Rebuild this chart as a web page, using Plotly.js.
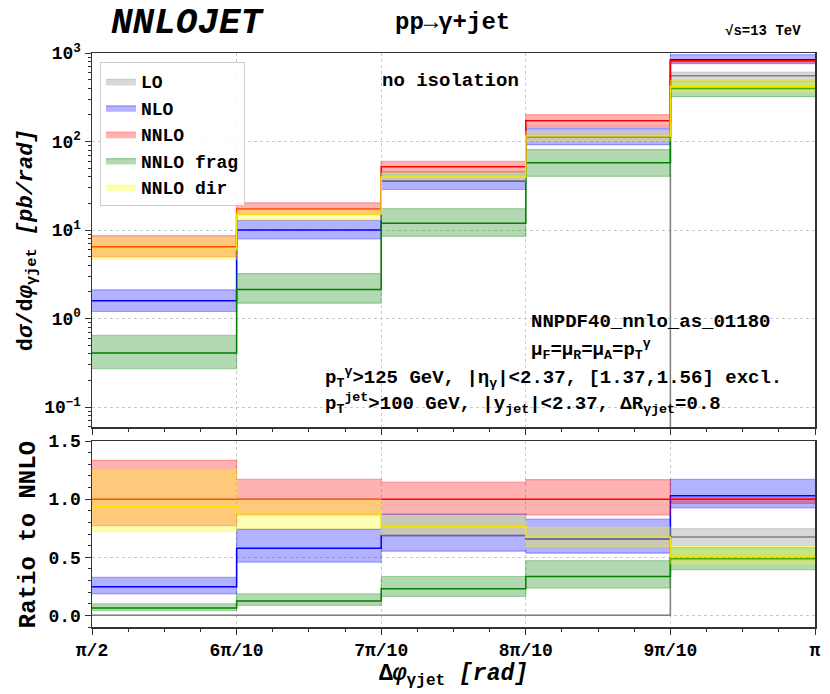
<!DOCTYPE html>
<html>
<head>
<meta charset="utf-8">
<script src="https://cdn.plot.ly/plotly-3.0.1.min.js"></script>
<style>body{margin:0;background:#fff}</style>
</head>
<body>
<div id="chart" style="width:830px;height:694px"></div>
<script>
const PI = Math.PI;
const binEdges = [PI/2, 6*PI/10, 7*PI/10, 8*PI/10, 9*PI/10, PI];
const tickLabels = ["π/2", "6π/10", "7π/10", "8π/10", "9π/10", "π"];

// dsigma/dphi [pb/rad], one value per bin (central, scale band low/high)
const lo        = [0, 0, 0, 0, 552];
const loLow     = [0, 0, 0, 0, 490];
const loHigh    = [0, 0, 0, 0, 610];

const nlo       = [1.59, 9.98, 35.7, 113, 841];
const nloLow    = [1.20, 7.91, 28.7, 92.0, 757];
const nloHigh   = [2.11, 12.85, 45.2, 142.6, 958];

const nnlo      = [6.47, 17.3, 52.0, 172, 818];
const nnloLow   = [4.99, 14.96, 45.3, 148.4, 788];
const nnloHigh  = [8.63, 20.26, 59.6, 201, 827];

const frag      = [0.408, 2.13, 11.9, 57.4, 398];
const fragLow   = [0.272, 1.49, 8.48, 40.4, 321];
const fragHigh  = [0.647, 3.22, 17.4, 81.0, 477];

const dir       = [6.04, 15.17, 39.7, 115.6, 417];
const dirLow    = [4.66, 12.96, 35.7, 101.7, 362];
const dirHigh   = [8.07, 17.3, 44.8, 130.2, 491];

const series = [
  {name: "LO",        c: lo,   l: loLow,   h: loHigh,   line: "#808080", fill: "rgba(128,128,128,0.3)"},
  {name: "NLO",       c: nlo,  l: nloLow,  h: nloHigh,  line: "#0000ff", fill: "rgba(0,0,255,0.3)"},
  {name: "NNLO",      c: nnlo, l: nnloLow, h: nnloHigh, line: "#ff0000", fill: "rgba(255,0,0,0.3)"},
  {name: "NNLO frag", c: frag, l: fragLow, h: fragHigh, line: "#008000", fill: "rgba(0,128,0,0.3)"},
  {name: "NNLO dir",  c: dir,  l: dirLow,  h: dirHigh,  line: "#f5e400", fill: "rgba(255,255,0,0.3)"}
];

// step helpers: repeat last value so 'hv' reaches the last edge
function step(vals) { return vals.concat([vals[vals.length - 1]]); }
function logSafe(vals) { return vals.map(v => v > 0 ? v : 1e-4); }  // zero bins fall below the log axis
function ratio(vals) { return vals.map((v, i) => v / nnlo[i]); }

var traces = [];
series.forEach(function (s) {
  var panels = [
    {xa: "x",  ya: "y",  c: logSafe(s.c), l: logSafe(s.l), h: logSafe(s.h), legend: true},
    {xa: "x2", ya: "y2", c: ratio(s.c),   l: ratio(s.l),   h: ratio(s.h),   legend: false}
  ];
  panels.forEach(function (p) {
    traces.push({
      x: binEdges, y: step(p.l), xaxis: p.xa, yaxis: p.ya,
      type: "scatter", mode: "lines", line: {shape: "hv", width: 1.2, color: s.fill},
      legendgroup: s.name, showlegend: false, hoverinfo: "skip"
    });
    traces.push({
      x: binEdges, y: step(p.h), xaxis: p.xa, yaxis: p.ya,
      type: "scatter", mode: "lines", line: {shape: "hv", width: 1.2, color: s.fill},
      fill: "tonexty", fillcolor: s.fill,
      name: s.name, legendgroup: s.name, showlegend: p.legend, hoverinfo: "skip"
    });
    traces.push({
      x: binEdges, y: step(p.c), xaxis: p.xa, yaxis: p.ya,
      type: "scatter", mode: "lines", line: {shape: "hv", width: 1.5, color: s.line},
      legendgroup: s.name, showlegend: false, hoverinfo: "skip"
    });
  });
});

const mono = "Liberation Mono, Courier New, monospace";

var xbase = {
  range: [PI/2, PI], tickvals: binEdges, ticks: "outside", ticklen: 6, tickwidth: 1,
  tickcolor: "#333", showline: true, mirror: true, linecolor: "#333", linewidth: 1.5,
  showgrid: true, gridcolor: "#c8c8c8", griddash: "dot", gridwidth: 1, zeroline: false,
  minor: {ticks: "outside", ticklen: 3, tick0: PI/2, dtick: PI/40, tickcolor: "#333", showgrid: false}
};

function note(text, x, y, size, xanchor, extra) {
  return Object.assign({
    text: text, x: x, y: y, xref: "paper", yref: "paper", showarrow: false,
    xanchor: xanchor || "center", yanchor: "middle",
    font: {family: mono, size: size, weight: "bold", color: "#000"}
  }, extra || {});
}

var layout = {
  width: 830, height: 694,
  margin: {l: 92, r: 15, t: 53, b: 67},
  paper_bgcolor: "#fff", plot_bgcolor: "#fff",
  font: {family: mono, size: 18, color: "#000", weight: "bold"},
  showlegend: true,
  legend: {
    x: 0.011, y: 0.984, xanchor: "left", yanchor: "top",
    bgcolor: "rgba(255,255,255,0.85)", bordercolor: "#cccccc", borderwidth: 1,
    font: {family: mono, size: 18, weight: "bold"}, tracegroupgap: 0
  },
  xaxis: Object.assign({}, xbase, {anchor: "y", showticklabels: false}),
  xaxis2: Object.assign({}, xbase, {anchor: "y2", matches: "x", ticktext: tickLabels,
    tickfont: {family: mono, size: 18, weight: "bold"},
    title: {text: "Δ<i>φ</i><sub>γjet</sub> <i>[rad]</i>", font: {family: mono, size: 23, weight: "bold"}, standoff: 0}}),
  yaxis: {
    type: "log", domain: [0.3484, 1], range: [-1.226, 3], anchor: "x",
    tickvals: [0.1, 1, 10, 100, 1000],
    ticktext: ["10<sup>−1</sup>", "10<sup>0</sup>", "10<sup>1</sup>", "10<sup>2</sup>", "10<sup>3</sup>"],
    tickfont: {family: mono, size: 18, weight: "bold"},
    ticks: "outside", ticklen: 6, tickcolor: "#333",
    showline: true, mirror: true, linecolor: "#333", linewidth: 1.5,
    showgrid: true, gridcolor: "#c8c8c8", griddash: "dot", zeroline: false,
    minor: {ticks: "outside", ticklen: 3, dtick: "D1", tickcolor: "#333", showgrid: false}
  },
  yaxis2: {
    domain: [0, 0.324], range: [-0.1, 1.5], anchor: "x2",
    tickvals: [0, 0.5, 1, 1.5], ticktext: ["0.0", "0.5", "1.0", "1.5"],
    tickfont: {family: mono, size: 18, weight: "bold"},
    ticks: "outside", ticklen: 6, tickcolor: "#333",
    showline: true, mirror: true, linecolor: "#333", linewidth: 1.5,
    showgrid: true, gridcolor: "#c8c8c8", griddash: "dot", zeroline: false,
    minor: {ticks: "outside", ticklen: 3, dtick: 0.1, tick0: 0, tickcolor: "#333", showgrid: false}
  },
  annotations: [
    note("<i>NNLOJET</i>", 0.133, 1.052, 36),
    note("pp→γ+jet", 0.498, 1.054, 24),
    note("√s=13 TeV", 0.983, 1.039, 14, "right"),
    note("no isolation", 0.496, 0.951, 19),
    note("NNPDF40_nnlo_as_01180", 0.605, 0.531, 19, "left"),
    note("μ<sub>F</sub>=μ<sub>R</sub>=μ<sub>A</sub>=p<sub>T</sub><sup>γ</sup>", 0.605, 0.483, 19, "left"),
    note("p<sub>T</sub><sup>γ</sup>>125 GeV, |η<sub>γ</sub>|<2.37, [1.37,1.56] excl.", 0.3195, 0.434, 19, "left"),
    note("p<sub>T</sub><sup>jet</sup>>100 GeV, |y<sub>jet</sub>|<2.37, ΔR<sub>γjet</sub>=0.8", 0.3195, 0.390, 19, "left"),
    note("d<i>σ</i>/d<i>φ</i><sub>γjet</sub> <i>[pb/rad]</i>", -0.0885, 0.674, 22, "center", {textangle: -90}),
    note("Ratio to NNLO", -0.0885, 0.160, 24, "center", {textangle: -90})
  ]
};

Plotly.newPlot("chart", traces, layout, {staticPlot: true});
</script>
</body>
</html>
